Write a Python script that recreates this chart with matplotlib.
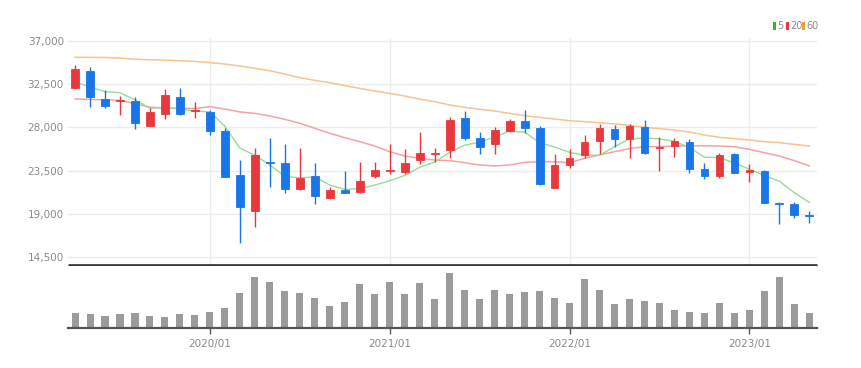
import matplotlib
matplotlib.use("Agg")
import matplotlib.pyplot as plt
from matplotlib.patches import Rectangle
import numpy as np
import pandas as pd

plt.rcParams['font.family'] = ['Liberation Sans Narrow', 'DejaVu Sans']

# 월봉 데이터 (2019/04 ~ 2023/05)
months = pd.period_range('2019-04', periods=50, freq='M')

opens = [32050, 33850, 30980, 30700, 30770, 28140, 29380, 31180, 29650, 29630,
         27620, 23050, 19340, 24400, 24330, 21560, 22940, 20630, 21460, 21280,
         22940, 23450, 23390, 24610, 25250, 25650, 29000, 26930, 26230, 27620,
         28660, 27900, 21730, 24050, 25090, 26580, 27860, 26820, 28070, 25850,
         26060, 26480, 23640, 22980, 25230, 23400, 23470, 20180, 20040, 18850]
highs = [34440, 34300, 31880, 31260, 31120, 30040, 31950, 32120, 30670, 29800,
         27960, 24610, 25850, 26860, 26300, 25820, 24260, 21800, 23460, 24400,
         24400, 26230, 25710, 27510, 25890, 29110, 29700, 27550, 28000, 28900,
         29800, 28140, 25200, 25800, 27170, 28380, 28240, 28310, 28760, 27000,
         26900, 26800, 24330, 25300, 25300, 24160, 23570, 20250, 20280, 19310]
lows = [31950, 30150, 30040, 29290, 27790, 28100, 28900, 29250, 28930, 27200,
        22800, 16020, 17680, 21840, 21140, 21500, 20040, 20550, 21150, 21200,
        22740, 23120, 23120, 24160, 24400, 24850, 26700, 25200, 25200, 27550,
        27450, 22050, 21700, 23740, 24850, 25200, 25990, 24850, 25200, 23460,
        24880, 23220, 22670, 22700, 23220, 22360, 20100, 17920, 18550, 18100]
closes = [34020, 31120, 30210, 30800, 28410, 29630, 31360, 29350, 29750, 27620,
          22880, 19760, 25090, 24250, 21630, 22770, 20870, 21460, 21180, 22430,
          23570, 23550, 24260, 25300, 25350, 28760, 26930, 25990, 27720, 28660,
          27960, 22080, 24050, 24850, 26480, 27900, 26820, 28140, 25370, 25950,
          26580, 23640, 22940, 25130, 23290, 23500, 20180, 20000, 18890, 18750]

# 이동평균선
ma5 = [32700, 32200, 31700, 31600, 30850, 30000, 30050, 29900, 29700, 29600,
       28100, 25850, 25100, 24100, 22900, 22750, 22850, 22000, 21550, 21650,
       22000, 22450, 23000, 23850, 24400, 25400, 26150, 26450, 27000, 27600,
       27500, 26400, 25950, 25400, 25100, 25100, 26000, 26800, 26900, 26800,
       26550, 25900, 24900, 24850, 24300, 23650, 23000, 22400, 21200, 20200]
ma20 = [30950, 30900, 30850, 30800, 30450, 30100, 30000, 29980, 29950, 30150,
        29900, 29600, 29450, 29180, 28830, 28420, 27900, 27380, 26930, 26510,
        26060, 25470, 25020, 24780, 24600, 24540, 24330, 24090, 23990, 24090,
        24360, 24430, 24430, 24330, 24780, 25130, 25470, 25790, 25990, 25990,
        26060, 26060, 26090, 26060, 25990, 25710, 25370, 25020, 24540, 23990]
ma60 = [35280, 35270, 35250, 35200, 35070, 35020, 34980, 34920, 34850, 34720,
        34580, 34370, 34130, 33880, 33540, 33160, 32880, 32640, 32330, 32050,
        31770, 31530, 31250, 30940, 30670, 30320, 30080, 29870, 29700, 29450,
        29210, 29040, 28860, 28690, 28590, 28480, 28350, 28210, 28000, 27860,
        27720, 27510, 27200, 26960, 26820, 26680, 26510, 26410, 26230, 26060]

# 거래량
volumes = [430, 400, 350, 400, 450, 350, 320, 400, 380, 480,
           600, 1030, 1510, 1380, 1100, 1050, 880, 650, 780, 1300,
           1000, 1380, 1000, 1350, 850, 1650, 1130, 850, 1130, 1000,
           1080, 1100, 880, 750, 1450, 1130, 700, 850, 800, 730,
           530, 480, 450, 730, 430, 530, 1100, 1530, 700, 430]

UP = '#e8383d'
DOWN = '#1976e8'
GRID = '#ececec'
TXT = '#8a8a8a'

W, H = 861, 368
fig = plt.figure(figsize=(W / 100, H / 100), dpi=100)
ax = fig.add_axes([68 / W, 1 - 265 / H, (816.7 - 68) / W, (265 - 38) / H])
axv = fig.add_axes([68 / W, 1 - 327.7 / H, (816.7 - 68) / W, (327.7 - 266) / H])

x = np.arange(len(months))
o = np.array(opens)
c = np.array(closes)
up = c >= o
colors = np.where(up, UP, DOWN)

# 이동평균선
ax.plot(x, ma60, color='#f9c28f', lw=1.1, zorder=2)
ax.plot(x, ma20, color='#f4a3a3', lw=1.1, zorder=2)
ax.plot(x, ma5, color='#95dc95', lw=1.0, zorder=2)

# 캔들
ax.vlines(x, lows, highs, colors=colors, lw=1.0, zorder=3)
body_lo = np.minimum(o, c)
body_h = np.maximum(np.abs(c - o), 120)
ax.bar(x, body_h, bottom=body_lo, width=0.52, color=colors, edgecolor=colors,
       lw=0.6, zorder=4)

ax.set_xlim(-0.47, len(x) - 0.51)
ax.set_ylim(13700, 37280)
yt = [14500, 19000, 23500, 28000, 32500, 37000]
ax.set_yticks(yt)
ax.set_yticklabels([f'{v:,}' for v in yt], fontsize=7.5, color=TXT)
year_idx = [i for i, m in enumerate(months) if m.month == 1]
ax.set_xticks(year_idx)
ax.tick_params(axis='x', length=0, labelbottom=False)
ax.tick_params(axis='y', length=0, pad=3)
ax.grid(True, color=GRID, lw=1.0, zorder=0)
for s in ['left', 'right', 'top']:
    ax.spines[s].set_visible(False)
ax.spines['bottom'].set_color('#3a3a3a')
ax.spines['bottom'].set_linewidth(2)
ax.spines['bottom'].set_capstyle('butt')

# 거래량 막대
axv.bar(x, volumes, width=0.47, color='#9b9b9b', zorder=2)
axv.set_xlim(ax.get_xlim())
axv.set_ylim(0, 1850)
axv.set_yticks([])
axv.set_xticks(year_idx)
axv.set_xticklabels([str(months[i]).replace('-', '/') for i in year_idx],
                    fontsize=7.5, color=TXT)
axv.tick_params(axis='x', length=4, width=1, color='#555555', pad=4)
for s in ['left', 'right', 'top']:
    axv.spines[s].set_visible(False)
axv.spines['bottom'].set_color('#555555')
axv.spines['bottom'].set_linewidth(1.6)

# 범례
for x0, col, lab in [(772.5, '#2fb52f', '5'), (785.8, '#e8383d', '20'), (801.8, '#f39a3c', '60')]:
    fig.add_artist(Rectangle((x0 / W, 1 - 30 / H), 3 / W, 8 / H,
                             transform=fig.transFigure, color=col, lw=0))
    fig.text((x0 + 4.5) / W, 1 - 26 / H, lab, fontsize=7, color=TXT,
             ha='left', va='center')

fig.savefig('out.png', dpi=100)
